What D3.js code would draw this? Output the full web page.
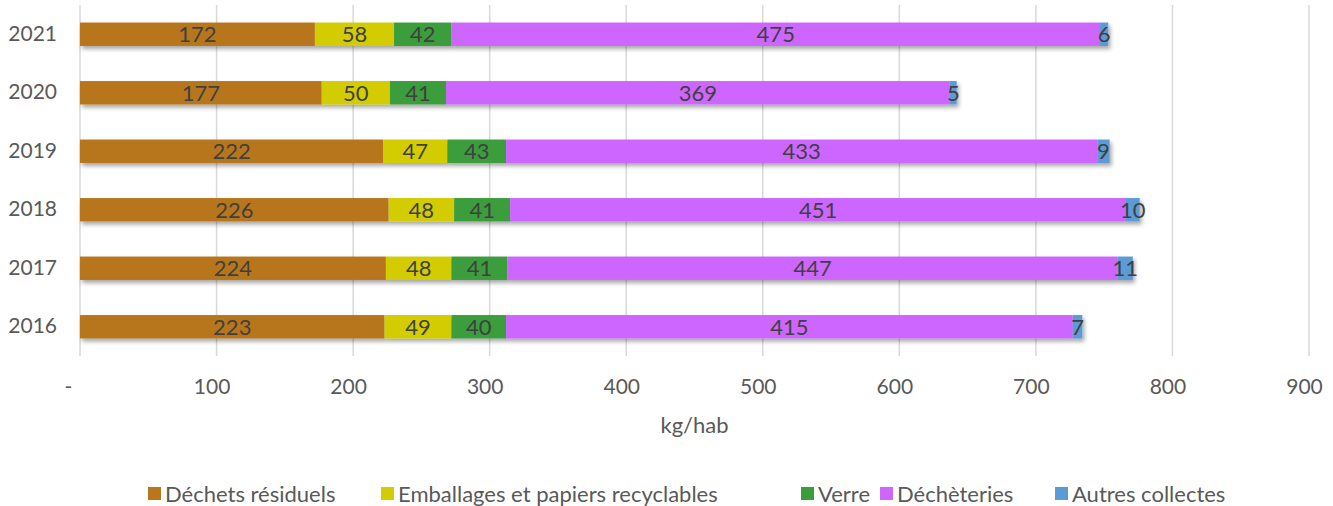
<!DOCTYPE html>
<html>
<head>
<meta charset="utf-8">
<script src="https://cdn.jsdelivr.net/npm/d3@7"></script>
<style>
  body { margin: 0; background: #fff; }
  text { font-family: Lato, "Open Sans", sans-serif; }
</style>
</head>
<body>
<div id="main-chart"></div>
<script>
// data (kg/hab)
let years = ['2021', '2020', '2019', '2018', '2017', '2016'];
let series = ['Déchets résiduels', 'Emballages et papiers recyclables', 'Verre', 'Déchèteries', 'Autres collectes'];
let residuels = [172, 177, 222, 226, 224, 223];
let emballages = [58, 50, 47, 48, 48, 49];
let verre = [42, 41, 43, 41, 41, 40];
let decheteries = [475, 369, 433, 451, 447, 415];
let autres = [6, 5, 9, 10, 11, 7];
let xTicks = [0, 100, 200, 300, 400, 500, 600, 700, 800, 900];
let colors = ['#B8761E', '#D2CC00', '#3A9D3A', '#CC66FF', '#5B9BD5'];

let margin = {left: 80, top: 5, right: 24, bottom: 150},
width = 1333 - margin.left - margin.right,
height = 506 - margin.top - margin.bottom;

let table = years.map((y, i) => ({
  year: y,
  'Déchets résiduels': residuels[i],
  'Emballages et papiers recyclables': emballages[i],
  'Verre': verre[i],
  'Déchèteries': decheteries[i],
  'Autres collectes': autres[i]
}));

let stacked = d3.stack().keys(series)(table);

let x = d3.scaleLinear().domain([0, 900]).range([0, width]);
let y = d3.scaleBand().domain(years).range([0, height]).paddingInner(0.6).paddingOuter(0.3);

let svgRoot = d3.select('#main-chart')
  .append('svg')
  .attr('width', 1333)
  .attr('height', 506);

let defs = svgRoot.append('defs');
let shadow = defs.append('filter').attr('id', 'shadow')
  .attr('x', '-5%').attr('y', '-30%').attr('width', '110%').attr('height', '180%');
shadow.append('feDropShadow')
  .attr('dx', 2).attr('dy', 3).attr('stdDeviation', 2)
  .attr('flood-color', '#000').attr('flood-opacity', 0.35);

let svg = svgRoot.append('g')
  .attr('transform', `translate(${margin.left}, ${margin.top})`);

// gridlines
svg.append('g')
  .selectAll('line')
  .data(xTicks)
  .join('line')
  .attr('x1', d => x(d)).attr('x2', d => x(d))
  .attr('y1', 0).attr('y2', height)
  .attr('stroke', '#d9d9d9')
  .attr('stroke-width', 1.5);

// x axis labels
let xAxis = svg.append('g')
  .attr('transform', `translate(0,${height})`)
  .call(d3.axisBottom(x).tickValues(xTicks).tickSize(0).tickPadding(23)
    .tickFormat(d => d === 0 ? '-' : d));
xAxis.select('.domain').remove();
xAxis.selectAll('text')
  .attr('dx', d => d === 0 ? -12 : -5)
  .style('font-size', '21px')
  .attr('fill', '#595959');

// y axis labels
let yAxis = svg.append('g')
  .call(d3.axisLeft(y).tickSize(0).tickPadding(23));
yAxis.select('.domain').remove();
yAxis.selectAll('text')
  .style('font-size', '21px')
  .attr('fill', '#595959');

// bars
let barsLayer = svg.append('g').attr('filter', 'url(#shadow)');
barsLayer.selectAll('.layer')
  .data(stacked)
  .join('g')
  .attr('class', 'layer')
  .attr('fill', (d, i) => colors[i])
  .selectAll('rect')
  .data(d => d)
  .join('rect')
  .attr('x', d => x(d[0]))
  .attr('y', d => y(d.data.year))
  .attr('width', d => x(d[1]) - x(d[0]))
  .attr('height', y.bandwidth());

// data labels
let labels = svg.append('g');
stacked.forEach(layer => {
  labels.selectAll(null)
    .data(layer)
    .join('text')
    .attr('x', d => (x(d[0]) + x(d[1])) / 2)
    .attr('y', d => y(d.data.year) + y.bandwidth() / 2)
    .attr('dy', '0.36em')
    .attr('text-anchor', 'middle')
    .style('font-size', '22px')
    .attr('fill', '#404040')
    .text(d => d[1] - d[0]);
});

// axis title
svg.append('text')
  .attr('x', width / 2)
  .attr('y', height + 77)
  .attr('text-anchor', 'middle')
  .style('font-size', '22px')
  .attr('fill', '#595959')
  .text('kg/hab');

// legend
let legendX = [148, 381, 801, 880, 1055];
let legend = svgRoot.append('g')
  .selectAll('g')
  .data(series)
  .join('g')
  .attr('transform', (d, i) => `translate(${legendX[i]}, 494)`);
legend.append('rect')
  .attr('x', 0).attr('y', -7)
  .attr('width', 13).attr('height', 13)
  .attr('fill', (d, i) => colors[i]);
legend.append('text')
  .attr('x', 17)
  .attr('dy', '0.36em')
  .style('font-size', '22px')
  .attr('fill', '#595959')
  .text(d => d);
</script>
</body>
</html>
